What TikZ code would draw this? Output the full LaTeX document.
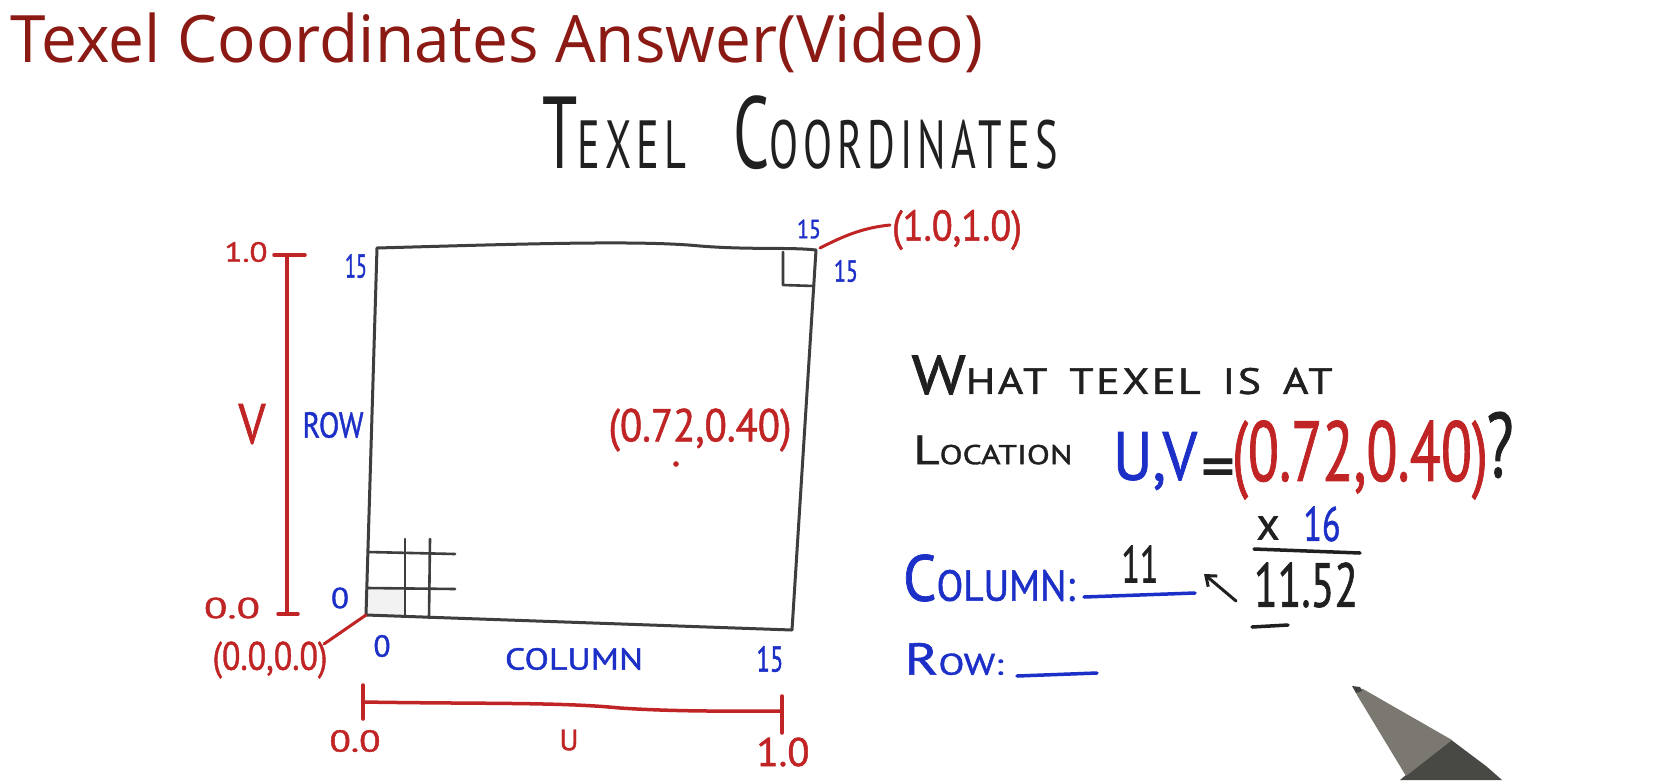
\documentclass[tikz,border=0pt]{standalone}
\usepackage{fontspec}
\setmainfont{Open Sans}
\newfontfamily\hand[FakeBold=1.2]{PT Sans}
\newfontfamily\handthin{PT Sans}
\usetikzlibrary{arrows.meta}
\definecolor{titlered}{RGB}{140,26,20}
\definecolor{inkred}{RGB}{192,36,36}
\definecolor{inkblue}{RGB}{28,48,200}
\definecolor{inkblack}{RGB}{32,32,32}
\definecolor{boxgray}{RGB}{62,62,62}
\definecolor{penlight}{RGB}{122,120,112}
\definecolor{pendark}{RGB}{72,72,68}
\newcommand{\fit}[3]{\resizebox*{#1pt}{#2pt}{#3}}
\newcommand{\Bg}[1]{{\fontsize{15}{15}\selectfont #1}}
\tikzset{
  lab/.style={inner sep=0pt, outer sep=0pt, anchor=center, font=\hand\fontsize{10}{10}\selectfont},
  redink/.style={lab, text=inkred},
  blueink/.style={lab, text=inkblue},
  blackink/.style={lab, text=inkblack},
  boxline/.style={draw=boxgray, line width=3pt, line join=round, line cap=round},
  redline/.style={draw=inkred, line width=3.5pt, line cap=round, line join=round},
  blueline/.style={draw=inkblue, line width=3.5pt, line cap=round},
  blackline/.style={draw=inkblack, line width=3.5pt, line cap=round}
}
\begin{document}
\begin{tikzpicture}[x=1pt,y=-1pt]
\useasboundingbox (0,0) rectangle (1666,780);
\fill[white] (0,0) rectangle (1666,780);

% title
\node[inner sep=0pt, text=titlered, anchor=center] (title) at (497,43) {\fit{972}{60}{Texel Coordinates Answer(Video)}};
\node[blackink, font=\handthin\fontsize{10}{10}\selectfont] (hand) at (800,133) {\fit{515}{74}{\addfontfeature{LetterSpace=12}\Bg{T}EXEL\hspace{1.1em}\Bg{C}OORDINATES}};

% square
\coordinate (TL) at (377,248);
\coordinate (TR) at (816,250);
\coordinate (BR) at (792,630);
\coordinate (BL) at (366,615);
\fill[gray!10] (367,588) rectangle (405,616);
\draw[boxline] (TL) .. controls (520,244) and (640,240) .. (700,246) .. controls (750,250) and (790,247) .. (TR) -- (BR) -- (BL) -- cycle;
% corner texel
\coordinate (c1) at (783,252);
\coordinate (c2) at (783,285);
\coordinate (c3) at (814,286);
\draw[boxline, line width=2.6pt] (c1) -- (c2) -- (c3);
% grid
\coordinate (g1a) at (405,539); \coordinate (g1b) at (405,617);
\coordinate (g2a) at (430,539); \coordinate (g2b) at (429,618);
\coordinate (g3a) at (368,552); \coordinate (g3b) at (455,554);
\coordinate (g4a) at (367,588); \coordinate (g4b) at (455,589);
\draw[boxline, line width=2.6pt] (g1a) -- (g1b);
\draw[boxline, line width=2.6pt] (g2a) -- (g2b);
\draw[boxline, line width=2.6pt] (g3a) -- (g3b);
\draw[boxline, line width=2.6pt] (g4a) -- (g4b);

% blue labels around square
\node[blueink] (n15a) at (356,266) {\fit{22}{24}{15}};
\node[blueink] (n15b) at (809,229) {\fit{24}{19}{15}};
\node[blueink] (n15c) at (846,271) {\fit{24}{22}{15}};
\node[blueink] (row) at (333,425) {\fit{61}{26}{ROW}};
\node[blueink] (z0a) at (340,598) {\fit{18}{21}{0}};
\node[blueink] (z0b) at (382,646) {\fit{17}{22}{0}};
\node[blueink] (col) at (574,659) {\fit{138}{22}{COLUMN}};
\node[blueink] (n15d) at (770,659) {\fit{27}{26}{15}};

% red V axis
\coordinate (vt) at (287,255);
\coordinate (vb) at (287,614);
\coordinate (vtl) at (274,255); \coordinate (vtr) at (305,255);
\coordinate (vbl) at (278,614); \coordinate (vbr) at (298,614);
\draw[redline] (vt) -- (vb);
\draw[redline] (vtl) -- (vtr);
\draw[redline] (vbl) -- (vbr);
\node[redink] (v10) at (246,252) {\fit{43}{20}{1.0}};
\node[redink] (vlab) at (252,424) {\fit{27}{40}{V}};
\node[redink] (v00) at (232,608) {\fit{56}{21}{0.0}};

% red U axis
\coordinate (ul) at (363,702);
\coordinate (ur) at (782,711);
\coordinate (ult) at (363,685); \coordinate (ulb) at (363,719);
\coordinate (urt) at (782,696); \coordinate (urb) at (782,733);
\draw[redline] (ul) .. controls (480,704) and (560,702) .. (620,708) .. controls (680,712) and (740,711) .. (ur);
\draw[redline] (ult) -- (ulb);
\draw[redline] (urt) -- (urb);
\node[redink] (u00) at (355,741) {\fit{51}{22}{0.0}};
\node[redink] (ulab) at (569,740) {\fit{19}{21}{U}};
\node[redink] (u10) at (783,752) {\fit{53}{29}{1.0}};

% corner labels
\node[redink] (p00) at (270,660) {\fit{115}{37}{(0.0,0.0)}};
\coordinate (p00e) at (324,644);
\draw[redline, line width=3pt] (p00e) -- (BL);
\node[redink] (p11) at (957,230) {\fit{130}{40}{(1.0,1.0)}};
\coordinate (p11e) at (890,225);
\coordinate (p11s) at (820,248);
\draw[redline, line width=3pt] (p11s) .. controls (840,238) and (860,228) .. (p11e);

% sample point
\node[redink] (pt) at (700,430) {\fit{183}{43}{(0.72,0.40)}};
\fill[inkred] (676,464) circle (2.8);

% question
\node[blackink] (q1) at (1122,375) {\fit{421}{39}{\addfontfeature{LetterSpace=6}\Bg{W}HAT\hspace{0.5em}TEXEL\hspace{0.5em}IS\hspace{0.5em}AT}};
\node[blackink] (q2) at (993,450) {\fit{159}{29}{\Bg{L}OCATION}};
\node[blueink] (uv) at (1155,461) {\fit{84}{58}{U,V}};
\node[blackink, anchor=base, font=\hand\fontsize{66}{66}\selectfont] (eq) at (1218,489) {=};
\node[redink] (q3) at (1360,460) {\fit{256}{79}{(0.72,0.40)}};
\node[blackink] (qm) at (1500,445) {\fit{27}{66}{?}};

% answer
\node[blueink] (colr) at (989,578) {\fit{172}{47}{\Bg{C}OLUMN:}};
\node[blackink] (eleven) at (1140,564) {\fit{37}{37}{11}};
\coordinate (cu1) at (1084,597); \coordinate (cu2) at (1195,593);
\draw[blueline] (cu1) -- (cu2);
\coordinate (ar1) at (1236,601); \coordinate (ar2) at (1204,574);
\draw[blackline, line width=3pt, -{Straight Barb[length=9pt,width=14pt,line width=3pt]}] (ar1) -- (ar2);
\node[blackink] (times) at (1268,528) {\fit{23}{23}{x}};
\node[blueink] (sixteen) at (1322,524) {\fit{37}{35}{16}};
\coordinate (fb1) at (1254,549); \coordinate (fb2) at (1360,553);
\draw[blackline] (fb1) -- (fb2);
\node[blackink] (prod) at (1306,585) {\fit{104}{45}{11.52}};
\coordinate (su1) at (1252,627); \coordinate (su2) at (1288,625);
\draw[blackline] (su1) -- (su2);
\node[blueink] (rowr) at (954,659) {\fit{99}{32}{\Bg{R}OW:}};
\coordinate (ru1) at (1017,676); \coordinate (ru2) at (1097,673);
\draw[blueline] (ru1) -- (ru2);

% pen
\fill[pendark] (1450,739) -- (1486,766) -- (1502,780) -- (1400,780) -- (1406,775) -- cycle;
\fill[penlight] (1354,688) -- (1363,689) -- (1452,740) -- (1406,776) -- (1357,695) -- cycle;
\fill[black!75] (1352,686) -- (1360,687) -- (1362,691) -- (1356,693) -- cycle;
\end{tikzpicture}
\end{document}
